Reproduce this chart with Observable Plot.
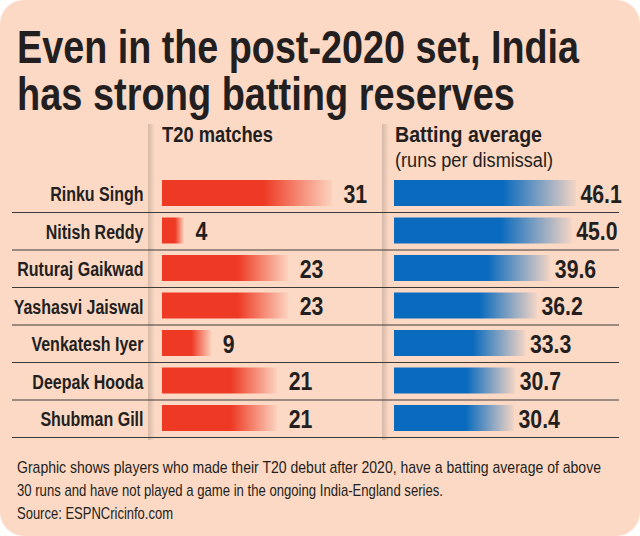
<!DOCTYPE html>
<html>
<head>
<meta charset="utf-8">
<script src="https://cdn.jsdelivr.net/npm/d3@7"></script>
<script src="https://cdn.jsdelivr.net/npm/@observablehq/plot@0.6"></script>
<style>
  body { margin: 0; background: #fff; }
  #card {
    position: relative; width: 640px; height: 536px; overflow: hidden;
    background: #FCD9C5; border-radius: 24px;
    font-family: "Liberation Sans Narrow", "Liberation Sans", Arial, sans-serif;
    color: #231F20;
  }
  .txt { position: absolute; white-space: nowrap; line-height: 1; }
  .txt span { display: inline-block; transform-origin: 0 50%; }
  .title { font-weight: 700; font-size: 46px; }
  .head { font-weight: 700; font-size: 22px; }
  .sub { font-weight: 400; font-size: 20px; }
  .note { font-weight: 400; font-size: 17px; }
  .divider {
    position: absolute; width: 7px; top: 124px; height: 316px;
    background: linear-gradient(to right, rgba(196,170,154,0.7), rgba(252,217,197,0));
  }
  .panel { position: absolute; top: 120px; }
</style>
</head>
<body>
<div id="card"></div>
<script>
// Players and their numbers since a post-2020 T20 debut
const players = ["Rinku Singh", "Nitish Reddy", "Ruturaj Gaikwad", "Yashasvi Jaiswal",
                 "Venkatesh Iyer", "Deepak Hooda", "Shubman Gill"];
const matches = [31, 4, 23, 23, 9, 21, 21];
const average = [46.1, 45.0, 39.6, 36.2, 33.3, 30.7, 30.4];

const titleLines = ["Even in the post-2020 set, India", "has strong batting reserves"];
const headers = {matches: "T20 matches", average: "Batting average", averageSub: "(runs per dismissal)"};
const noteLines = [
  "Graphic shows players who made their T20 debut after 2020, have a batting average of above",
  "30 runs and have not played a game in the ongoing India-England series."
];
const source = "Source: ESPNCricinfo.com";

const rows = players.map((name, i) => ({i, name, matches: matches[i], average: average[i]}));

const FONT = '"Liberation Sans Narrow", "Liberation Sans", Arial, sans-serif';
const INK = "#231F20";
const RED = "#EE3A24";
const BLUE = "#0A6BBE";
const card = document.getElementById("card");

// Place a text line by its baseline; squeeze it to a set width (condensed look)
function addText(cls, text, left, baseline, fitWidth) {
  const div = document.createElement("div");
  div.className = "txt " + cls;
  const span = document.createElement("span");
  span.textContent = text;
  div.appendChild(span);
  card.appendChild(div);
  const fs = parseFloat(getComputedStyle(div).fontSize);
  div.style.left = left + "px";
  div.style.top = (baseline - 0.8465 * fs) + "px";
  if (fitWidth) {
    const w = span.getBoundingClientRect().width;
    span.style.transform = `scaleX(${fitWidth / w})`;
  }
  return div;
}

titleLines.forEach((t, k) => addText("title", t, 17, 63 + k * 47, [562, 498][k]));
addText("head", headers.matches, 162, 143, 111);
addText("head", headers.average, 395, 143, 147);
addText("sub", headers.averageSub, 395, 167, 158);
noteLines.forEach((t, k) => addText("note", t, 17, 473 + k * 23.5, [584, 426][k]));
addText("note", source, 17, 519, 156);

// Soft vertical dividers beside each panel
for (const x of [148, 382]) {
  const d = document.createElement("div");
  d.className = "divider";
  d.style.left = x + "px";
  card.appendChild(d);
}

function addFade(svg, id, color) {
  const g = d3.select(svg).insert("defs", ":first-child")
    .append("linearGradient").attr("id", id).attr("x1", 0).attr("x2", 1).attr("y1", 0).attr("y2", 0);
  g.append("stop").attr("offset", 0).attr("stop-color", color);
  g.append("stop").attr("offset", 0.6).attr("stop-color", color);
  g.append("stop").attr("offset", 1).attr("stop-color", color).attr("stop-opacity", 0.04);
}

// Narrow the glyphs of a mark's texts around their anchor points
function condense(svg, cls, k) {
  svg.querySelectorAll(`g.${cls} text`).forEach(t => {
    const tr = t.getAttribute("transform") || "";
    t.setAttribute("transform", `${tr} scale(${k},1)`);
  });
}

const rowY = {domain: [-0.5, players.length - 0.5], reverse: true, axis: null};
const common = {
  height: 320, marginTop: 54.5, marginBottom: 3,
  style: {background: "transparent", fontFamily: FONT, overflow: "visible", color: INK}
};
const sep = {stroke: "#3d3a3a", strokeWidth: 1.1};

// Left panel: names and T20 matches
const left = Plot.plot({
  ...common,
  width: 383, marginLeft: 162, marginRight: 51,
  x: {domain: [0, d3.max(matches)], axis: null},
  y: rowY,
  marks: [
    Plot.ruleY(rows, {y: d => d.i + 0.5, ...sep, insetLeft: -150, insetRight: -51}),
    Plot.rectX(rows, {x: "matches", y1: d => d.i - 0.5, y2: d => d.i + 0.5,
                      insetTop: 5.5, insetBottom: 6, fill: "url(#fadeRed)"}),
    Plot.text(rows, {y: "i", text: "name", frameAnchor: "left", textAnchor: "end", dx: -19, dy: 1,
                     fontSize: 20, fontWeight: 700, fill: INK, className: "names"}),
    Plot.text(rows, {x: "matches", y: "i", text: d => String(d.matches), textAnchor: "start",
                     dx: 11, dy: 1, fontSize: 25, fontWeight: 700, fill: INK, className: "values"})
  ]
});
addFade(left, "fadeRed", RED);
condense(left, "names", 0.8);
condense(left, "values", 0.85);

// Right panel: batting average
const right = Plot.plot({
  ...common,
  width: 257, marginLeft: 11, marginRight: 64,
  x: {domain: [0, d3.max(average)], axis: null},
  y: rowY,
  marks: [
    Plot.ruleY(rows, {y: d => d.i + 0.5, ...sep, insetLeft: -11, insetRight: -43}),
    Plot.rectX(rows, {x: "average", y1: d => d.i - 0.5, y2: d => d.i + 0.5,
                      insetTop: 5.5, insetBottom: 6, fill: "url(#fadeBlue)"}),
    Plot.text(rows, {x: "average", y: "i", text: d => d3.format(".1f")(d.average), textAnchor: "start",
                     dx: 4, dy: 1, fontSize: 25, fontWeight: 700, fill: INK, className: "values"})
  ]
});
addFade(right, "fadeBlue", BLUE);
condense(right, "values", 0.85);

for (const [svg, x] of [[left, 0], [right, 383]]) {
  const wrap = document.createElement("div");
  wrap.className = "panel";
  wrap.style.left = x + "px";
  wrap.appendChild(svg);
  card.appendChild(wrap);
}
</script>
</body>
</html>
